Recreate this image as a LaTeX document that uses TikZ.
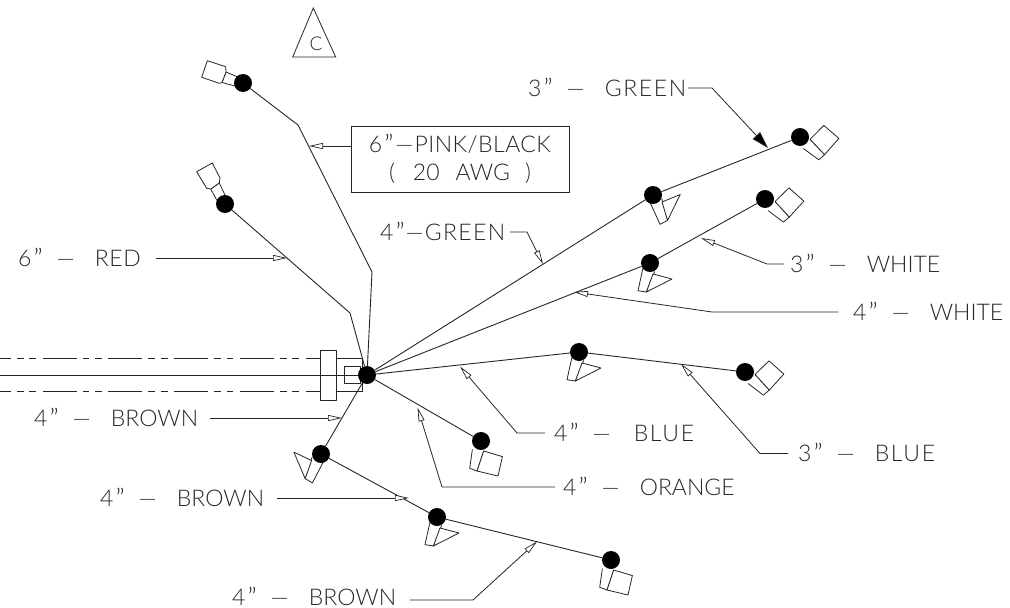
\documentclass[tikz,border=0pt]{standalone}
\usepackage{fontspec}
\setmainfont{Lato Light}
\usetikzlibrary{arrows.meta,backgrounds}
\tikzset{
  wire/.style={draw=black!85,line width=0.9pt,line join=round},
  dotnode/.style={circle,fill=black,minimum size=18pt,inner sep=0pt},
  lead/.style={draw=black!85,line width=0.8pt,-{Triangle[open,fill=white,length=14pt,width=6pt,line width=0.7pt]}},
  leadfill/.style={draw=black!85,line width=0.8pt,-{Triangle[fill=black,length=17pt,width=10pt]}},
  lab/.style={anchor=base west,inner sep=0pt,font=\fontsize{23}{23}\selectfont,text=black!85},
  part/.style={draw=black!85,line width=0.8pt,fill=white,line join=round},
  pics/sqhead/.style={code={
    \draw[part] (-8.6,8.3) -- (-11.3,27.3) -- (-4,30) -- (2.7,10);
    \draw[part] (2.7,10) -- (21.4,15.6) -- (17,35) -- (-4,30) -- cycle;
  }},
  pics/trihead/.style={code={
    \draw[part] (-7,5) -- (-12,27.7) -- (-3.6,29) -- (4.7,8.4);
    \draw[part] (3,11) -- (22,16) -- (-3.6,29) -- cycle;
  }},
  pics/pentone/.style={code={
    \draw[part] (-6,-6.3) -- (-17,-11) -- (-21,-0.5) -- (-8,3) -- cycle;
    \draw[part] (-17,-11) -- (-17.3,-16.3) -- (-35.7,-22.3) -- (-41.3,-5.7) -- (-23.7,0.3) -- (-21,-0.5) -- cycle;
  }},
  pics/penttwo/.style={code={
    \draw[part] (-5.7,-21) -- (0,-9) -- (-8.3,-4) -- (-14.3,-15) -- cycle;
    \draw[part] (-5.7,-21) -- (-5,-26) -- (-12.7,-41) -- (-28.3,-32.3) -- (-18.3,-15.7) -- (-14.3,-15) -- cycle;
  }},
}
\newcommand{\gap}[1]{\hspace{#1pt}}
\newcommand{\qq}{\gap{2}{\fontsize{27}{27}\selectfont\raisebox{-2pt}{”}}}
\newcommand{\lb}[3][0]{\addfontfeature{LetterSpace=#1}#2\qq\gap{14}—\gap{20}#3}
\begin{document}
\begin{tikzpicture}[x=1pt,y=-1pt]
\useasboundingbox (0,0) rectangle (1010,608);
% junction and terminal dots
\node[dotnode] (hub) at (367,375) {};
\node[dotnode] (a1) at (243,83) {};
\node[dotnode] (a2) at (225,204) {};
\node[dotnode] (g1) at (653,195) {};
\node[dotnode] (g2) at (800,137) {};
\node[dotnode] (w1) at (650,263) {};
\node[dotnode] (w2) at (765,199) {};
\node[dotnode] (b1) at (579,352) {};
\node[dotnode] (b2) at (745,372) {};
\node[dotnode] (o1) at (481,441) {};
\node[dotnode] (r1) at (321,454) {};
\node[dotnode] (r2) at (437,517) {};
\node[dotnode] (r3) at (611,560) {};
% free ends
\coordinate (k1) at (298,125);
\coordinate (k2) at (372,272);
\coordinate (k3) at (350,313);
\begin{scope}[on background layer]
  % harness
  \foreach \yy in {358.3,391.7}{
    \draw[wire,dash pattern=on 34pt off 6pt on 6.7pt off 5.7pt on 6.7pt off 6.6pt,dash phase=23pt] (0,\yy) -- (320,\yy);
    \draw[wire] (336,\yy) -- (362,\yy);
  }
  \draw[wire] (362,358.3) -- (362,391.7);
  \draw[wire] (0,375) -- (hub);
  \draw[wire] (344,366.7) rectangle (360,383.3);
  \draw[wire] (320,350.7) rectangle (336.5,400);
  % connector bodies
  \pic[rotate=0] at (o1) {sqhead};
  \pic[rotate=0] at (r3) {sqhead};
  \pic[rotate=62] at (g2) {sqhead};
  \pic[rotate=61] at (w2) {sqhead};
  \pic[rotate=61] at (b2) {sqhead};
  \pic[rotate=0] at (w1) {trihead};
  \pic[rotate=37] at (g1) {trihead};
  \pic[rotate=0] at (b1) {trihead};
  \pic[rotate=0] at (r2) {trihead};
  \pic[rotate=-40,xscale=-1] at (r1) {trihead};
  \pic at (a1) {pentone};
  \pic at (a2) {penttwo};
  % wires
  \draw[wire] (a1) -- (k1) -- (k2) -- (hub);
  \draw[wire] (a2) -- (k3) -- (hub);
  \draw[wire] (hub) -- (g1) -- (g2);
  \draw[wire] (hub) -- (w1) -- (w2);
  \draw[wire] (hub) -- (b1) -- (b2);
  \draw[wire] (hub) -- (o1);
  \draw[wire] (hub) -- (r1) -- (r2) -- (r3);
\end{scope}
% C triangle
\draw[draw=black!85,line width=0.8pt] (313.3,8) -- (335.7,57) -- (292.7,57) -- cycle;
\node[anchor=base,inner sep=0pt,font=\fontsize{19}{19}\selectfont,text=black!85] (c) at (316,50) {C};
% labelled box
\node[draw=black!85,line width=0.9pt,minimum width=218pt,minimum height=66pt,inner sep=0pt,align=center,font=\fontsize{23}{28}\selectfont,text=black!85] (box) at (460,159) {6\qq\gap{2}—\gap{1}{\addfontfeature{LetterSpace=2}PINK/BLACK}\\(\gap{18}20\gap{16}AWG\gap{15})};
% labels
\node[lab] (t1) at (18,266.5) {\lb[3]{6}{RED}};
\node[lab] (t2) at (380,240.5) {\addfontfeature{LetterSpace=6}4\qq\gap{1}—\gap{1}GREEN};
\node[lab] (t3) at (528,96.5) {\lb[7]{3}{GREEN}};
\node[lab] (t4) at (790,272.5) {\lb{3}{WHITE}};
\node[lab] (t5) at (853,320.5) {\lb{4}{WHITE}};
\node[lab] (t6) at (554,441.5) {\lb[7]{4}{\gap{3}BLUE}};
\node[lab] (t7) at (798,461.5) {\lb[7]{3}{BLUE}};
\node[lab] (t8) at (563,495.5) {\lb{4}{ORANGE}};
\node[lab] (t9) at (34,426.5) {\lb{4}{BROWN}};
\node[lab] (t10) at (100,506.5) {\lb{4}{BROWN}};
\node[lab] (t11) at (232,605.5) {\lb{4}{BROWN}};
% leader ends
\coordinate (p1) at (309,146);
\coordinate (p2) at (287,258);
\coordinate (p3) at (543,264);
\coordinate (p4) at (768,148);
\coordinate (p5) at (701,238);
\coordinate (p6) at (574,292);
\coordinate (p7) at (460,366.5);
\coordinate (p8) at (681,364);
\coordinate (p9) at (417.5,407.5);
\coordinate (p10) at (342,418);
\coordinate (p11) at (409,498);
\coordinate (p12) at (537,541.5);
\draw[lead] (box.west |- p1) -- (p1);
\draw[lead] (156,258) -- (p2);
\draw[lead] (510,232) -- (527,232) -- (p3);
\draw[leadfill] (688,88) -- (712,88) -- (p4);
\draw[lead] (784,264) -- (767,264) -- (p5);
\draw[lead] (838,312) -- (712,312) -- (p6);
\draw[lead] (545,433) -- (517,433) -- (p7);
\draw[lead] (788,453.5) -- (760,453.5) -- (p8);
\draw[lead] (555,487) -- (442,487) -- (p9);
\draw[lead] (210,418) -- (p10);
\draw[lead] (277,498) -- (p11);
\draw[lead] (410,600) -- (473,600) -- (p12);
\end{tikzpicture}
\end{document}
